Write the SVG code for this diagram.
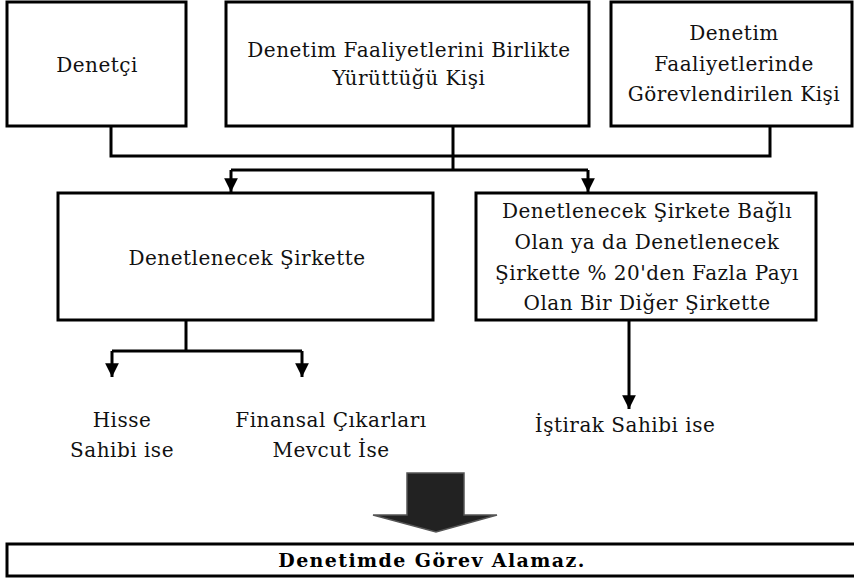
<svg xmlns="http://www.w3.org/2000/svg" width="854" height="578" viewBox="0 0 854 578">
  <style>
    .box { fill: #fff; stroke: #000; stroke-width: 3; }
    .lbl { font-family: "DejaVu Serif", "Liberation Serif", serif; font-size: 20px; letter-spacing: 0.5px; fill: #111; text-anchor: middle; }
    .wire { fill: none; stroke: #000; stroke-width: 3; }
    .res { font-family: "DejaVu Serif", "Liberation Serif", serif; font-weight: bold; font-size: 19px; letter-spacing: 1.4px; fill: #000; text-anchor: middle; }
  </style>
  <defs>
    <marker id="tip" viewBox="0 0 10 10" refX="10" refY="5" markerWidth="4.6" markerHeight="5.4" markerUnits="strokeWidth" orient="auto">
      <path d="M0,0 L10,5 L0,10 Z" fill="#000"/>
    </marker>
  </defs>
  <rect width="854" height="578" fill="#fff"/>

  <g id="denetci">
    <rect class="box" x="7" y="2" width="179" height="124"/>
    <text class="lbl" x="97" y="72">Denetçi</text>
  </g>

  <g id="birlikte-yurutten">
    <rect class="box" x="226" y="2" width="363" height="124"/>
    <text class="lbl" x="409" y="57">Denetim Faaliyetlerini Birlikte</text>
    <text class="lbl" x="409" y="85">Yürüttüğü Kişi</text>
  </g>

  <g id="gorevlendirilen">
    <rect class="box" x="611" y="2" width="241" height="124"/>
    <text class="lbl" x="734" y="40">Denetim</text>
    <text class="lbl" x="734" y="71">Faaliyetlerinde</text>
    <text class="lbl" x="734" y="101">Görevlendirilen Kişi</text>
  </g>

  <g id="denetlenecek-sirket">
    <rect class="box" x="58" y="193" width="375" height="127"/>
    <text class="lbl" x="247" y="265">Denetlenecek Şirkette</text>
  </g>

  <g id="bagli-sirket">
    <rect class="box" x="476" y="193" width="340" height="127"/>
    <text class="lbl" x="647" y="218">Denetlenecek Şirkete Bağlı</text>
    <text class="lbl" x="647" y="249">Olan ya da Denetlenecek</text>
    <text class="lbl" x="647" y="280">Şirkette % 20'den Fazla Payı</text>
    <text class="lbl" x="647" y="310">Olan Bir Diğer Şirkette</text>
  </g>

  <g id="hisse">
    <text class="lbl" x="122" y="427">Hisse</text>
    <text class="lbl" x="122" y="457">Sahibi ise</text>
  </g>

  <g id="finansal">
    <text class="lbl" x="331" y="427">Finansal Çıkarları</text>
    <text class="lbl" x="331" y="457">Mevcut İse</text>
  </g>

  <g id="istirak">
    <text class="lbl" x="625" y="432">İştirak Sahibi ise</text>
  </g>

  <g id="connectors">
    <!-- upper collector line -->
    <path class="wire" d="M111,126 V156 H770 V126"/>
    <path class="wire" d="M453,126 V170"/>
    <path class="wire" d="M231,170 H588"/>
    <path class="wire" d="M231,170 V192" marker-end="url(#tip)"/>
    <path class="wire" d="M588,170 V192" marker-end="url(#tip)"/>
    <!-- branches under the audited company -->
    <path class="wire" d="M186,320 V351"/>
    <path class="wire" d="M112,351 H302"/>
    <path class="wire" d="M112,351 V377" marker-end="url(#tip)"/>
    <path class="wire" d="M302,351 V377" marker-end="url(#tip)"/>
    <!-- affiliated company branch -->
    <path class="wire" d="M629,320 V409" marker-end="url(#tip)"/>
  </g>

  <g id="sonuc-oku">
    <polygon points="407,473 464,473 464,515 497,515 436,532 373,515 407,515" fill="#222" stroke="#555" stroke-width="1.5"/>
  </g>

  <g id="sonuc">
    <rect class="box" x="7" y="544" width="850" height="32"/>
    <text class="res" x="432" y="567">Denetimde Görev Alamaz.</text>
  </g>
</svg>
